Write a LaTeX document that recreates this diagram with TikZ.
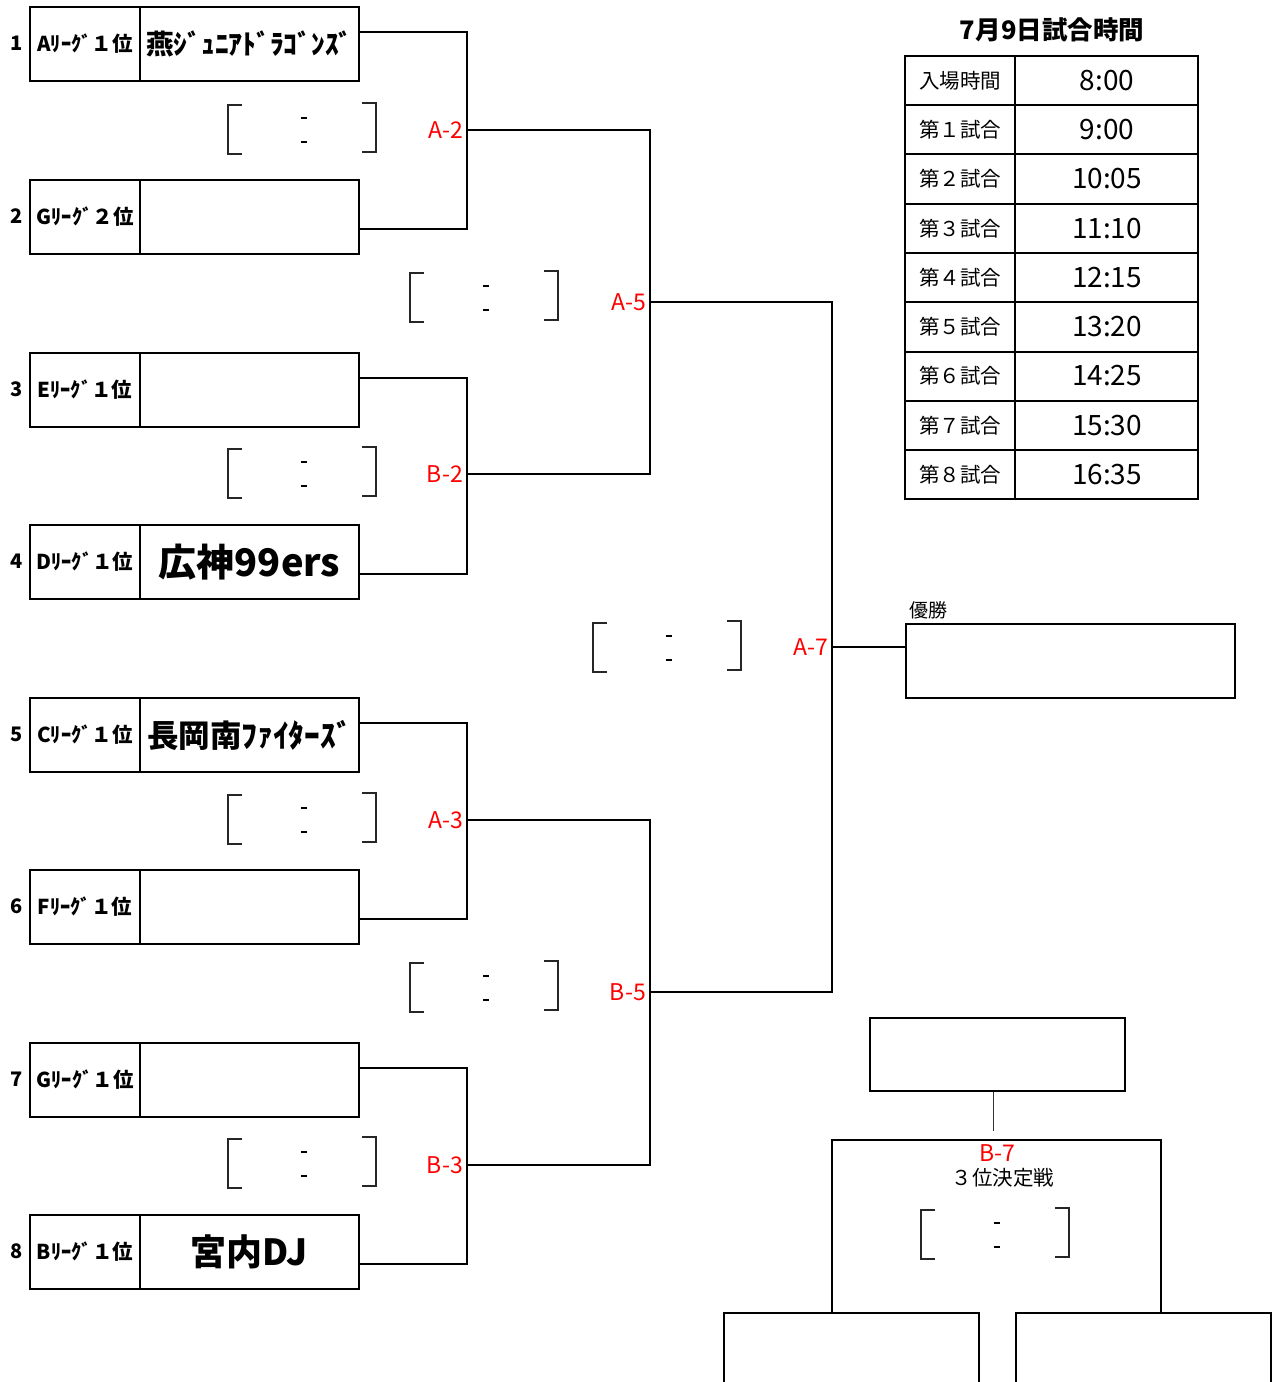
\documentclass[tikz,border=0pt]{standalone}
\usepackage{fontspec}
\setmainfont{Noto Sans CJK JP}
\begin{document}
\begin{tikzpicture}[x=1pt,y=-1pt,
  lbox/.style={draw,line width=2pt,inner sep=0pt,anchor=north west,minimum width=110pt,minimum height=74pt,font=\bfseries\fontsize{20.5}{22}\selectfont},
  nbox/.style={draw,line width=2pt,inner sep=0pt,anchor=north west,minimum width=219pt,minimum height=74pt,font=\bfseries},
  num/.style={font=\bfseries\fontsize{20}{22}\selectfont,inner sep=0pt},
  conn/.style={line width=2pt},
  brk/.style={line width=1.4pt,black!85},
  lab/.style={text=red,font=\fontsize{23}{24}\selectfont,inner sep=1pt},
  cell/.style={font=\fontsize{20.5}{22}\selectfont,inner sep=0pt},
  tcell/.style={font=\fontsize{28}{30}\selectfont,inner sep=0pt},
  obox/.style={draw,line width=2pt,inner sep=0pt,anchor=north west}]
\clip (0,0) rectangle (1274,1382);
\fill[white] (0,0) rectangle (1274,1382);
% team boxes
\node[num] (k1) at (17,43) {1};
\node[lbox] (l1) at (29,6) {Aﾘｰｸﾞ１位};
\node[nbox] (n1) at (139,6) {\fontsize{27.5}{29}\selectfont 燕ｼﾞｭﾆｱﾄﾞﾗｺﾞﾝｽﾞ};
\node[num] (k2) at (17,216) {2};
\node[lbox] (l2) at (29,179) {Gﾘｰｸﾞ２位};
\node[nbox] (n2) at (139,179) {};
\node[num] (k3) at (17,389) {3};
\node[lbox] (l3) at (29,352) {Eﾘｰｸﾞ１位};
\node[nbox] (n3) at (139,352) {};
\node[num] (k4) at (17,561) {4};
\node[lbox] (l4) at (29,524) {Dﾘｰｸﾞ１位};
\node[nbox] (n4) at (139,524) {\fontsize{38}{40}\selectfont 広神99ers};
\node[num] (k5) at (17,734) {5};
\node[lbox] (l5) at (29,697) {Cﾘｰｸﾞ１位};
\node[nbox] (n5) at (139,697) {\fontsize{31.5}{33}\selectfont 長岡南ﾌｧｲﾀｰｽﾞ};
\node[num] (k6) at (17,906) {6};
\node[lbox] (l6) at (29,869) {Fﾘｰｸﾞ１位};
\node[nbox] (n6) at (139,869) {};
\node[num] (k7) at (17,1079) {7};
\node[lbox] (l7) at (29,1042) {Gﾘｰｸﾞ１位};
\node[nbox] (n7) at (139,1042) {};
\node[num] (k8) at (17,1251) {8};
\node[lbox] (l8) at (29,1214) {Bﾘｰｸﾞ１位};
\node[nbox] (n8) at (139,1214) {\fontsize{36}{38}\selectfont 宮内DJ};
% junctions
\coordinate (jA2) at (467,130);
\coordinate (jB2) at (467,474);
\coordinate (jA3) at (467,820);
\coordinate (jB3) at (467,1165);
\coordinate (jA5) at (650,302);
\coordinate (jB5) at (650,992);
\coordinate (jA7) at (832,647);
% winner box
\node[obox,minimum width=329pt,minimum height=74pt] (win) at (905,623) {};
\node[anchor=west,inner sep=0pt,font=\fontsize{19}{20}\selectfont] (wlab) at (909,610) {優勝};
% connectors
\draw[conn] ([yshift=12pt]n1.east) -| (jA2) |- ([yshift=-12pt]n2.east);
\draw[conn] ([yshift=12pt]n3.east) -| (jB2) |- ([yshift=-12pt]n4.east);
\draw[conn] ([yshift=12pt]n5.east) -| (jA3) |- ([yshift=-12pt]n6.east);
\draw[conn] ([yshift=12pt]n7.east) -| (jB3) |- ([yshift=-12pt]n8.east);
\draw[conn] (jA2) -| (jA5) |- (jB2);
\draw[conn] (jA3) -| (jB5) |- (jB3);
\draw[conn] (jA5) -| (jA7) |- (jB5);
\draw[conn] (jA7) -- (jA7 -| win.west);
% match labels
\node[lab,anchor=east] (tA2) at ([xshift=-3pt]jA2) {A-2};
\node[lab,anchor=east] (tB2) at ([xshift=-3pt]jB2) {B-2};
\node[lab,anchor=east] (tA3) at ([xshift=-3pt]jA3) {A-3};
\node[lab,anchor=east] (tB3) at ([xshift=-3pt]jB3) {B-3};
\node[lab,anchor=east] (tA5) at ([xshift=-3pt]jA5) {A-5};
\node[lab,anchor=east] (tB5) at ([xshift=-3pt]jB5) {B-5};
\node[lab,anchor=east] (tA7) at ([xshift=-3pt]jA7) {A-7};
% score brackets
\foreach \cx/\cy in {302/129,484/297,302/473,667/647,302/819,484/987,302/1163,995/1234}{
  \draw[brk] ({\cx-60},{\cy-24}) -- ({\cx-74},{\cy-24}) -- ({\cx-74},{\cy+25}) -- ({\cx-60},{\cy+25});
  \draw[brk] ({\cx+60},{\cy-26}) -- ({\cx+74},{\cy-26}) -- ({\cx+74},{\cy+23}) -- ({\cx+60},{\cy+23});
  \draw[line width=1.3pt] ({\cx-1},{\cy-11}) -- ({\cx+5},{\cy-11});
  \draw[line width=1.3pt] ({\cx-1},{\cy+13}) -- ({\cx+5},{\cy+13});
}
% schedule table
\node[font=\bfseries\fontsize{25.5}{27}\selectfont,inner sep=0pt] (ttl) at (1052,30) {7月9日試合時間};
\draw[line width=2pt] (905,56) rectangle (1198,499);
\draw[line width=2pt] (1015,56) -- (1015,499);
\foreach \yy in {105,154,204,253,302,352,401,450}{
  \draw[line width=2pt] (905,\yy) -- (1198,\yy);
}
\foreach \i/\a/\b in {0/入場時間/8:00,1/第１試合/9:00,2/第２試合/10:05,3/第３試合/11:10,4/第４試合/12:15,5/第５試合/13:20,6/第６試合/14:25,7/第７試合/15:30,8/第８試合/16:35}{
  \node[cell] (ca\i) at (960,{80.5+49.25*\i}) {\a};
  \node[tcell] (cb\i) at (1107,{80.5+49.25*\i}) {\b};
}
% third place
\node[obox,minimum width=255pt,minimum height=73pt] (third) at (869,1017) {};
\coordinate (tp) at (993,1131);
\draw[line width=1pt,black!80] (third.south -| tp) -- (tp);
\coordinate (b7l) at (832,1140);
\coordinate (b7r) at (1161,1140);
\node[obox,minimum width=255pt,minimum height=100pt] (bl) at (723,1312) {};
\node[obox,minimum width=255pt,minimum height=100pt] (br) at (1015,1312) {};
\draw[conn] (bl.north -| b7l) -- (b7l) -- (b7r) -- (br.north -| b7r);
\node[lab] (tB7) at (997,1153) {B-7};
\node[cell] (t3) at (1003,1178) {３位決定戦};
\end{tikzpicture}
\end{document}
